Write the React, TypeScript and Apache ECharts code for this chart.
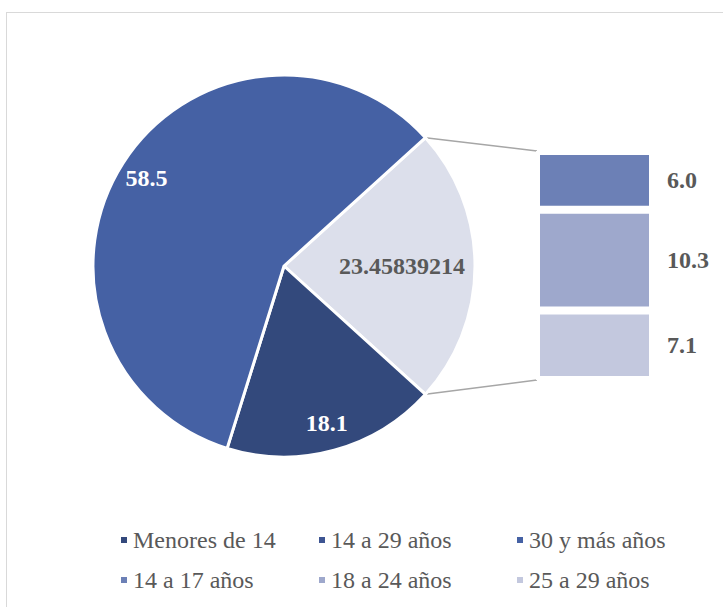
import React, { useEffect, useRef } from "react";
import * as echarts from "echarts";

// ---- data ----
const pieNames = ["Menores de 14", "30 y más años"];
const pieValues = [18.1, 58.5];
const otherName = "14 a 29 años";
const otherValue = 23.45839214;
const barNames = ["14 a 17 años", "18 a 24 años", "25 a 29 años"];
const barValues = [6.0, 10.3, 7.1];
const legendRow1 = ["Menores de 14", "14 a 29 años", "30 y más años"];
const legendRow2 = ["14 a 17 años", "18 a 24 años", "25 a 29 años"];

const colors: Record<string, string> = {
  "Menores de 14": "#33497c",
  "30 y más años": "#4561a4",
  "14 a 29 años": "#dcdfeb",
  "14 a 17 años": "#6c80b6",
  "18 a 24 años": "#9ea8cc",
  "25 a 29 años": "#c3c8de",
};
const legendColors: Record<string, string> = {
  ...colors,
  "14 a 29 años": "#3d5592",
};

const FONT = "Liberation Serif";
const CX = 284;
const CY = 266;
const R = 191;
const GRID_LEFT = 536;
const GRID_RIGHT = 70;

export default function App() {
  const ref = useRef<HTMLDivElement>(null);
  useEffect(() => {
    if (!ref.current) return;
    const chart = echarts.init(ref.current, undefined, { renderer: "svg" });

    const total = otherValue + pieValues.reduce((a, b) => a + b, 0);
    const startAngle = ((otherValue / total) * 360) / 2;
    const pieData = [
      { name: otherName, value: otherValue, itemStyle: { color: colors[otherName] } },
      ...pieNames.map((n, i) => ({ name: n, value: pieValues[i], itemStyle: { color: colors[n] } })),
    ];
    const fmt = (p: any) => (p.name === otherName ? String(p.value) : Number(p.value).toFixed(1));
    const labelColor = (n: string) => (n === otherName ? "#595959" : "#ffffff");

    const labelPie = (radius: [number, number], showOther: boolean) => ({
      type: "pie",
      center: [CX, CY],
      radius,
      startAngle,
      silent: true,
      legendHoverLink: false,
      z: 5,
      data: pieData.map((d) => ({
        name: d.name,
        value: d.value,
        itemStyle: { color: "rgba(0,0,0,0)", borderWidth: 0 },
        label: {
          show: showOther ? d.name === otherName : d.name !== otherName,
          color: labelColor(d.name),
        },
      })),
      label: {
        position: "inside",
        formatter: fmt,
        fontFamily: FONT,
        fontWeight: "bold",
        fontSize: 24,
        padding: showOther ? [8, 0, 0, 0] : [2, 0, 0, 0],
      },
      labelLine: { show: false },
    });

    const barSum = barValues.reduce((a, b) => a + b, 0);
    const barOrder = [2, 1, 0]; // bottom to top

    const legendBase = {
      orient: "horizontal",
      left: 119,
      padding: 0,
      itemWidth: 8,
      itemHeight: 8,
      itemGap: 0,
      icon: "rect",
      selectedMode: false,
      textStyle: {
        fontFamily: FONT,
        fontSize: 24,
        color: "#595959",
        width: 184,
        lineHeight: 26,
      },
    };

    chart.setOption({
      animation: false,
      legend: [
        {
          ...legendBase,
          top: 527,
          data: legendRow1.map((n) => ({ name: n, itemStyle: { color: legendColors[n] } })),
        },
        {
          ...legendBase,
          top: 567,
          data: legendRow2.map((n) => ({ name: n, itemStyle: { color: legendColors[n] } })),
        },
      ],
      grid: { left: GRID_LEFT, right: GRID_RIGHT, top: 151, bottom: 227, containLabel: false },
      xAxis: { type: "category", data: [""], show: false },
      yAxis: { type: "value", min: 0, max: barSum, show: false },
      series: [
        {
          type: "pie",
          center: [CX, CY],
          radius: [0, R],
          startAngle,
          clockwise: true,
          data: pieData,
          itemStyle: { borderColor: "#ffffff", borderWidth: 3 },
          label: { show: false },
          labelLine: { show: false },
          emphasis: { disabled: true },
        },
        labelPie([130, 190], false),
        labelPie([90, 140], true),
        ...barOrder.map((i) => ({
          type: "bar",
          name: barNames[i],
          stack: "other",
          barWidth: "100%",
          barCategoryGap: 0,
          data: [barValues[i]],
          itemStyle: { color: colors[barNames[i]], borderColor: "#ffffff", borderWidth: 4 },
          label: {
            show: true,
            position: "right",
            distance: 14,
            formatter: (p: any) => Number(p.value).toFixed(1),
            fontFamily: FONT,
            fontWeight: "bold",
            fontSize: 24,
            color: "#595959",
          },
          emphasis: { disabled: true },
        })),
      ],
    });

    // connector lines from pie "other" slice edges to bar corners
    const a = (startAngle * Math.PI) / 180;
    const p1 = [CX + R * Math.cos(a), CY - R * Math.sin(a)];
    const p2 = [CX + R * Math.cos(a), CY + R * Math.sin(a)];
    const yTop = chart.convertToPixel({ yAxisIndex: 0 }, barSum) as number;
    const yBot = chart.convertToPixel({ yAxisIndex: 0 }, 0) as number;
    const xCenter = chart.convertToPixel({ xAxisIndex: 0 }, "") as number;
    const xLeft = xCenter - (723 - GRID_RIGHT - GRID_LEFT) / 2 + 1;
    chart.setOption({
      graphic: [
        {
          type: "line",
          shape: { x1: p1[0], y1: p1[1], x2: xLeft, y2: yTop },
          style: { stroke: "#a6a6a6", lineWidth: 1.5 },
          z: 1,
        },
        {
          type: "line",
          shape: { x1: p2[0], y1: p2[1], x2: xLeft, y2: yBot },
          style: { stroke: "#a6a6a6", lineWidth: 1.5 },
          z: 1,
        },
      ],
    });

    return () => chart.dispose();
  }, []);

  return (
    <div
      style={{
        position: "fixed",
        left: 0,
        top: 0,
        width: 723,
        height: 607,
        overflow: "hidden",
        background: "#ffffff",
      }}
    >
      <div
        style={{
          position: "absolute",
          left: 6,
          top: 12,
          width: 740,
          height: 620,
          border: "1px solid #d9d9d9",
        }}
      />
      <div ref={ref} style={{ position: "absolute", left: 0, top: 0, width: 723, height: 607 }} />
    </div>
  );
}
